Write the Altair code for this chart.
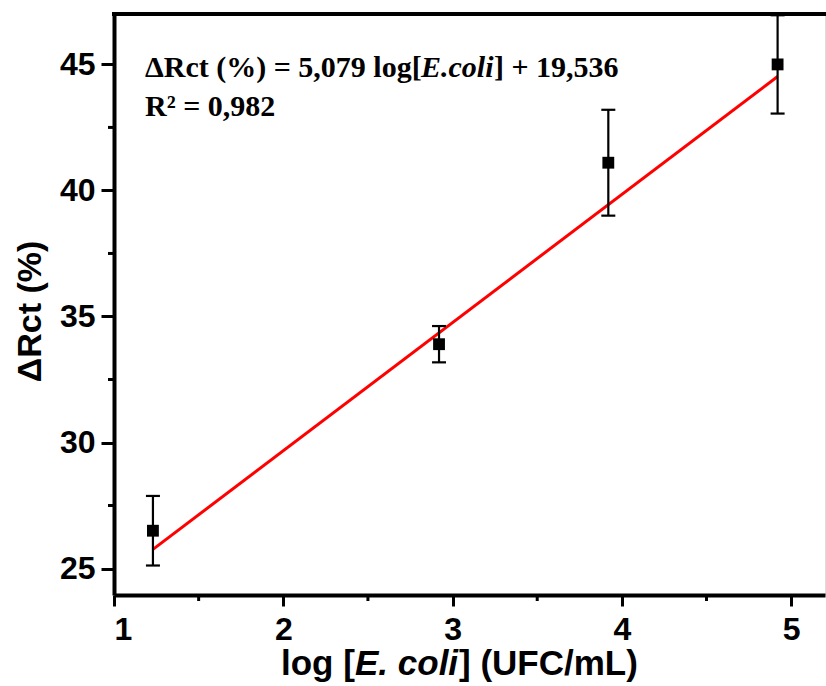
import altair as alt
import pandas as pd

# ---- data ----
log_ecoli = [1.23, 2.92, 3.92, 4.92]
delta_rct = [26.5, 33.9, 41.1, 45.0]
err = [1.38, 0.72, 2.1, 1.95]

fit_x = [1.23, 4.92]
fit_y = [25.76, 44.52]

x_minor = [1.5, 2.5, 3.5, 4.5]
y_minor = [27.5, 32.5, 37.5, 42.5]
x_major = [1, 2, 3, 4, 5]
y_major = [25, 30, 35, 40, 45]

W, H = 711, 581
XDOM = [1, 5.2]
YDOM = [23.95, 47.0]

pts = pd.DataFrame({"x": log_ecoli, "y": delta_rct,
                    "lo": [v - e for v, e in zip(delta_rct, err)],
                    "hi": [v + e for v, e in zip(delta_rct, err)]})
fit = pd.DataFrame({"x": fit_x, "y": fit_y})
one = pd.DataFrame({"a": [0]})

xs = alt.Scale(domain=XDOM, nice=False, zero=False)
ys = alt.Scale(domain=YDOM, nice=False, zero=False)

xaxis = alt.Axis(values=x_major, format="d", title=None, grid=False,
                 tickSize=11, tickWidth=3, domainWidth=4, labelPadding=8,
                 labelFont="Liberation Sans", labelFontSize=32, labelFontWeight="bold",
                 labelColor="black", tickColor="black", domainColor="black")
yaxis = alt.Axis(values=y_major, format="d", title="ΔRct (%)", grid=False,
                 tickSize=13, tickWidth=3, domainWidth=4, labelPadding=6,
                 labelFont="Liberation Sans", labelFontSize=32, labelFontWeight="bold",
                 labelColor="black", tickColor="black", domainColor="black",
                 titleFont="Liberation Sans", titleFontSize=34, titleFontWeight="bold",
                 titleColor="black", titleAngle=-90, titleX=-74, titleY=297,
                 titleAlign="center", titleBaseline="alphabetic")

base = alt.Chart(pts)

fit_line = alt.Chart(fit).mark_line(color="#ff0000", strokeWidth=3).encode(
    x=alt.X("x:Q", scale=xs, axis=xaxis),
    y=alt.Y("y:Q", scale=ys, axis=yaxis),
)

bars = base.mark_rule(color="black", strokeWidth=2.2).encode(
    x="x:Q", y="lo:Q", y2="hi:Q")
cap_lo = base.mark_tick(color="black", orient="horizontal", thickness=2.2, size=14, opacity=1).encode(
    x="x:Q", y="lo:Q")
cap_hi = base.mark_tick(color="black", orient="horizontal", thickness=2.2, size=14, opacity=1).encode(
    x="x:Q", y="hi:Q")
squares = base.mark_square(color="black", size=140, opacity=1).encode(x="x:Q", y="y:Q")

xminor = alt.Chart(pd.DataFrame({"v": x_minor})).mark_rule(color="black", strokeWidth=3).encode(
    x="v:Q", y=alt.value(H), y2=alt.value(H + 6))
yminor = alt.Chart(pd.DataFrame({"v": y_minor})).mark_rule(color="black", strokeWidth=3).encode(
    y="v:Q", x=alt.value(-6), x2=alt.value(0))

top_border = alt.Chart(one).mark_rule(color="black", strokeWidth=4).encode(
    x=alt.value(-2), x2=alt.value(W + 2), y=alt.value(0))

# equation text
eq_font = dict(font="Liberation Serif", fontSize=30, fontWeight="bold", color="black",
               align="left", baseline="alphabetic")
eq1 = alt.Chart(one).mark_text(**eq_font, text="ΔRct (%) = 5,079 log[").encode(
    x=alt.value(31), y=alt.value(63))
eq2 = alt.Chart(one).mark_text(**eq_font, fontStyle="italic", text="E.coli").encode(
    x=alt.value(307), y=alt.value(63))
eq3 = alt.Chart(one).mark_text(**eq_font, text="] + 19,536").encode(
    x=alt.value(380), y=alt.value(63))
r2 = alt.Chart(one).mark_text(**eq_font, text="R² = 0,982").encode(
    x=alt.value(31), y=alt.value(102))

# x-axis title with italic part
xt_font = dict(font="Liberation Sans", fontSize=35, fontWeight="bold", color="black",
               align="left", baseline="alphabetic")
xt1 = alt.Chart(one).mark_text(**xt_font, text="log [").encode(
    x=alt.value(167), y=alt.value(H + 80))
xt2 = alt.Chart(one).mark_text(**xt_font, fontStyle="italic", text="E. coli").encode(
    x=alt.value(241), y=alt.value(H + 80))
xt3 = alt.Chart(one).mark_text(**xt_font, text="] (UFC/mL)").encode(
    x=alt.value(345), y=alt.value(H + 80))

chart = alt.layer(
    fit_line, bars, cap_lo, cap_hi, squares, xminor, yminor, top_border,
    eq1, eq2, eq3, r2, xt1, xt2, xt3,
).properties(
    width=W, height=H,
    autosize=alt.AutoSizeParams(type="none"),
    padding={"left": 114, "top": 14, "right": 1, "bottom": 686 - 14 - H},
).configure_view(stroke=None).configure(background="white")

chart.save("out.html", embed_options={"renderer": "svg", "actions": False})
